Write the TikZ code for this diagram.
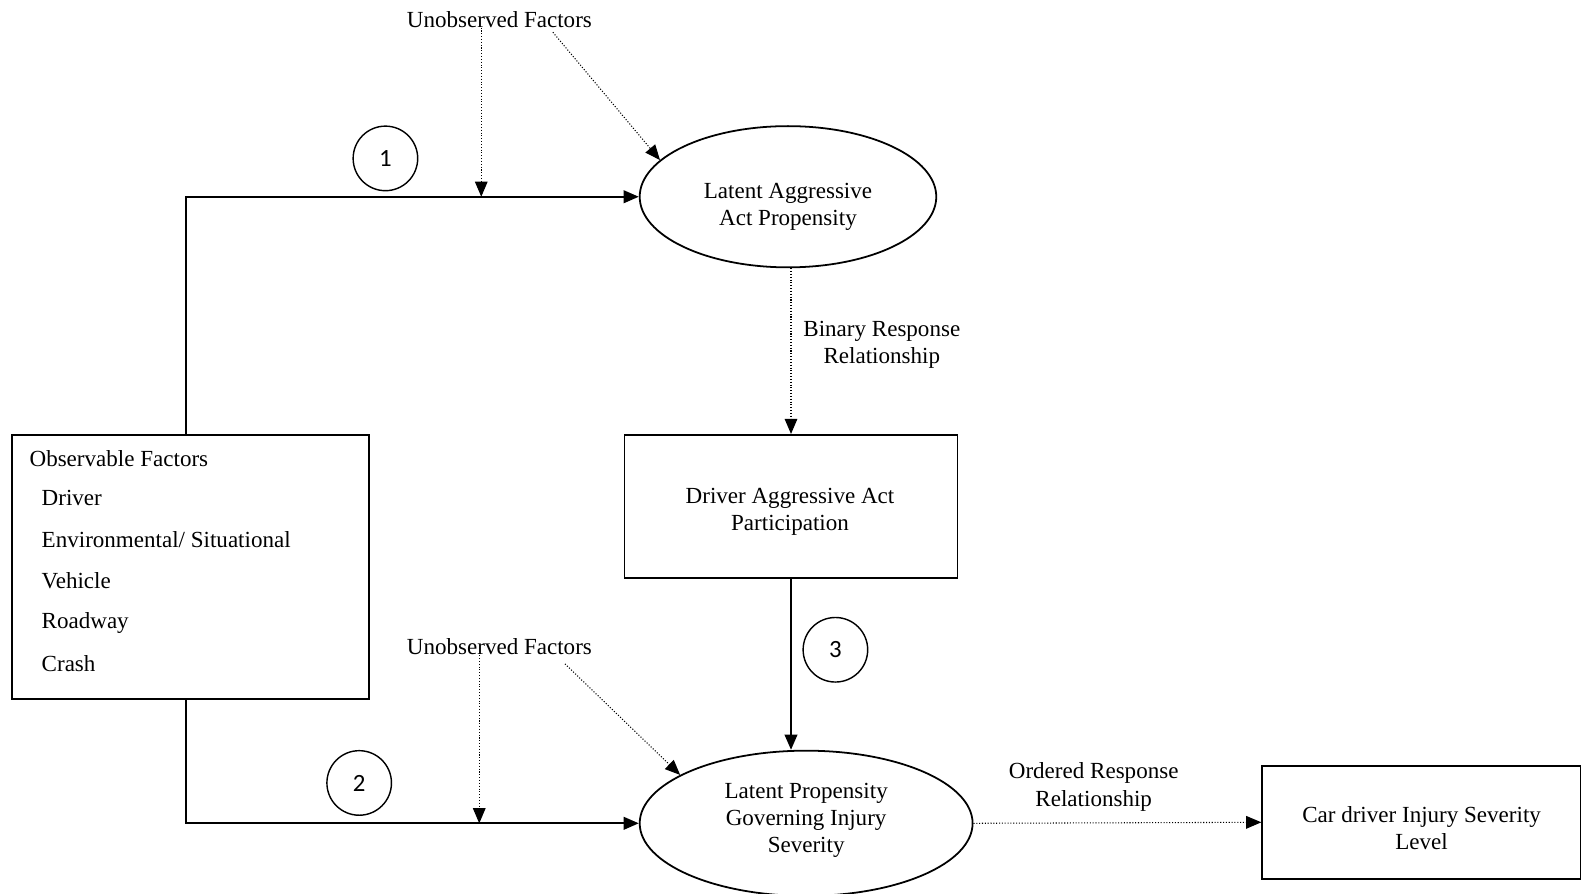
\documentclass[tikz,border=0pt]{standalone}
\usepackage{fontspec}
\setmainfont{Liberation Serif}
\newfontfamily\numfont{Carlito}
\usetikzlibrary{shapes.geometric,arrows.meta}
\begin{document}
\begin{tikzpicture}[x=0.02cm,y=-0.02cm,
  every node/.style={font=\fontsize{13}{15.3}\selectfont},
  txt/.style={inner sep=0pt,align=center},
  boxx/.style={draw,line width=1pt,rectangle,inner sep=0pt},
  ell/.style={draw,line width=1pt,ellipse,inner sep=0pt},
  numc/.style={draw,line width=0.8pt,circle,minimum size=1.28cm,inner sep=0pt,font=\numfont\fontsize{14}{16}\selectfont},
  conn/.style={line width=1.1pt,-{Triangle[length=0.3cm,width=0.25cm]}},
  dconn/.style={line width=0.6pt,densely dotted,-{Triangle[length=0.3cm,width=0.25cm]}}]
\useasboundingbox (0,0) rectangle (1567,886);
% shapes
\node[ell,minimum width=5.88cm,minimum height=2.8cm] (ell1) at (781,195) {};
\node[ell,minimum width=6.6cm,minimum height=2.88cm] (ell2) at (799,816) {};
\node[boxx,minimum width=6.6cm,minimum height=2.84cm] (box2) at (784,502) {};
\node[boxx,minimum width=6.32cm,minimum height=2.24cm] (box3) at (1409,815) {};
\node[boxx,minimum width=7.08cm,minimum height=5.24cm] (obs) at (189,562) {};
% texts
\node[txt] (uf1) at (495,19) {Unobserved Factors};
\node[txt] (uf2) at (495,641) {Unobserved Factors};
\node[txt] (ell1t) at (781,205) {Latent Aggressive\\Act Propensity};
\node[txt] (ell2t) at (799,813) {Latent Propensity\\Governing Injury\\Severity};
\node[txt] (box2t) at (783,507) {Driver Aggressive Act\\Participation};
\node[txt] (box3t) at (1409,821) {Car driver Injury Severity\\Level};
\node[txt,anchor=west] (of) at (29,455) {Observable Factors};
\node[txt,anchor=west] (f1) at (41,494) {Driver};
\node[txt,anchor=west] (f2) at (41,535) {Environmental/ Situational};
\node[txt,anchor=west] (f3) at (41,576) {Vehicle};
\node[txt,anchor=west] (f4) at (41,617) {Roadway};
\node[txt,anchor=west] (f5) at (41,658) {Crash};
\node[txt] (brr) at (874,342) {Binary Response\\Relationship};
\node[txt] (orr) at (1084,780) {Ordered Response\\Relationship};
\node[numc] (c1) at (382,157) {1};
\node[numc] (c2) at (356,776) {2};
\node[numc] (c3) at (828,644) {3};
% coordinates
\coordinate (j1) at (477,195);
\coordinate (j2) at (475,816);
\coordinate (s1) at (548,32);
\coordinate (s2) at (560,658);
% connectors
\draw[conn] ([xshift=-0.1cm]obs.north) |- (ell1.west);
\draw[conn] ([xshift=-0.1cm]obs.south) |- (ell2.west);
\draw[dconn] (j1 |- uf1.south) -- (j1);
\draw[dconn] (j2 |- uf2.south) -- (j2);
\draw[dconn] (s1) -- (ell1.164);
\draw[dconn] (s2) -- (ell2.159.6);
\draw[dconn] (box2.north |- ell1.south) -- (box2.north);
\draw[conn] (box2.south) -- (box2.south |- ell2.north);
\draw[dconn] (ell2.east) -- (box3.west);
\end{tikzpicture}
\end{document}
